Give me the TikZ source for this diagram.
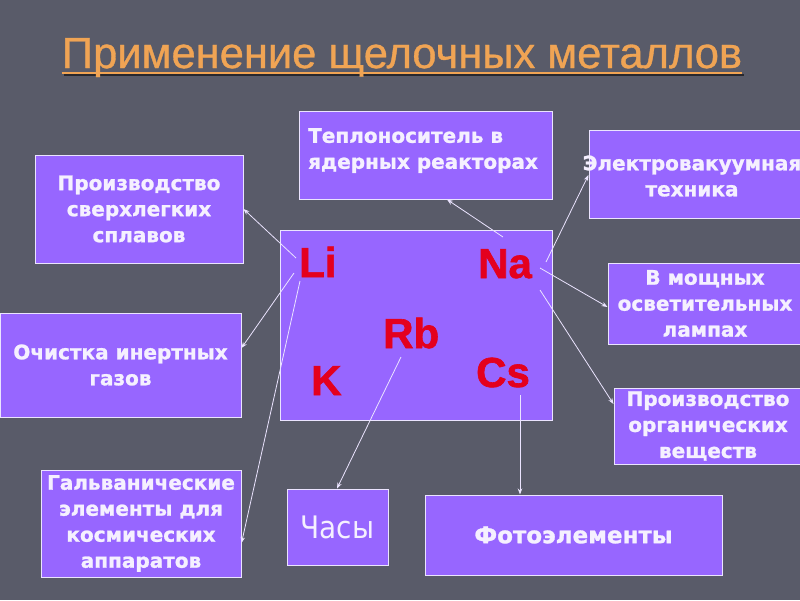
\documentclass[tikz,border=0pt]{standalone}
\usepackage{fontspec}
\setmainfont{DejaVu Sans}[BoldFont={DejaVu Sans Bold},BoldFeatures={FakeBold=1.2}]
\newfontfamily\condfont{DejaVu Sans Condensed}
\newfontfamily\titlefont{Liberation Sans}[FakeBold=0.8]
\newfontfamily\elfont{Liberation Sans}[BoldFont={Liberation Sans Bold},BoldFeatures={FakeBold=1.5}]
\usetikzlibrary{arrows.meta,calc}
\definecolor{bg}{RGB}{89,91,105}
\definecolor{boxc}{RGB}{151,102,255}
\definecolor{edge}{RGB}{235,228,255}
\definecolor{txt}{RGB}{245,240,255}
\definecolor{elred}{RGB}{228,0,30}
\definecolor{ttl}{RGB}{240,164,84}
\definecolor{shd}{RGB}{40,40,46}
\begin{document}
\begin{tikzpicture}[x=1pt,y=-1pt,
  box/.style={draw=edge,line width=1pt,fill=boxc,inner sep=0pt,text=txt,
    font=\bfseries\fontsize{20}{26}\selectfont,align=center},
  boxtext/.style={text=txt,inner sep=0pt,font=\bfseries\fontsize{20}{26}\selectfont},
  el/.style={text=elred,font=\elfont\bfseries\fontsize{42}{42}\selectfont,inner sep=0pt,anchor=base west},
  arr/.style={draw=edge,line width=0.8pt,-{Stealth[length=6pt,width=4.5pt]}}]
\fill[bg] (0,0) rectangle (800,600);
\useasboundingbox (0,0) rectangle (800,600);
% title
\draw[shd,line width=2pt] (64,75) -- (744,75);
\node[anchor=base,inner sep=0pt,text=ttl] (T) at (402,68)
  {\resizebox{680pt}{30pt}{\titlefont Применение щелочных металлов}};
\draw[ttl,line width=2pt] ($(T.base west)+(0,5)$) -- ($(T.base east)+(0,5)$);
% boxes
\node[box,minimum width=208pt,minimum height=108pt] (A) at (139,209)
  {Производство\\сверхлегких\\сплавов};
\node[box,minimum width=253pt,minimum height=88pt] (B) at (425.5,155) {};
\node[boxtext,anchor=north west,align=left] (Bt) at (308,128)
  {Теплоноситель в\\ядерных реакторах};
\node[box,minimum width=213pt,minimum height=88pt] (C) at (695.5,174) {};
\node[boxtext,align=center] (Ct) at (692,176) {Электровакуумная\\техника};
\node[box,minimum width=194pt,minimum height=81pt] (D) at (705,303.5)
  {В мощных\\осветительных\\лампах};
\node[box,minimum width=188pt,minimum height=76pt] (E) at (708,426)
  {Производство\\органических\\веществ};
\node[box,minimum width=241pt,minimum height=104pt] (F) at (120.5,365)
  {Очистка инертных\\газов};
\node[box,minimum width=200pt,minimum height=107pt] (G) at (141,523.5)
  {Гальванические\\элементы для\\космических\\аппаратов};
\node[box,minimum width=101pt,minimum height=76pt,font=\condfont\mdseries\fontsize{31}{31}\selectfont] (H) at (337.5,527)
  {Часы};
\node[box,minimum width=297pt,minimum height=80pt,font=\bfseries\fontsize{23}{26}\selectfont] (I) at (573.5,535)
  {Фотоэлементы};
\node[box,minimum width=272pt,minimum height=190pt] (M) at (416,325) {};
% elements
\node[el] (Li) at (299,277) {Li};
\node[el] (Na) at (478,278) {Na};
\node[el] (Rb) at (383,348) {Rb};
\node[el] (K) at (311,395) {K};
\node[el] (Cs) at (476,387) {Cs};
% connector starts
\coordinate (sLiA) at (296,258);
\coordinate (sLiF) at (294,273);
\coordinate (sLiG) at (300,281);
\coordinate (sNaB) at (503,237);
\coordinate (sNaC) at (546,262);
\coordinate (sNaD) at (540,268);
\coordinate (sNaE) at (540,290);
\coordinate (sRbH) at (401,357);
\coordinate (sCsI) at (520,395);
% connectors
\draw[arr] (sLiA) -- (A.east);
\draw[arr] (sLiF) -- (F.east |- 0,348);
\draw[arr] (sLiG) -- (G.east |- 0,543);
\draw[arr] (sNaB) -- (B.south -| 447,0);
\draw[arr] (sNaC) -- (C.west |- 0,175);
\draw[arr] (sNaD) -- (D.west |- 0,307);
\draw[arr] (sNaE) -- (E.west |- 0,404);
\draw[arr] (sRbH) -- (H.north -| 337,0);
\draw[arr] (sCsI) -- (I.north -| 520,0);
\end{tikzpicture}
\end{document}
